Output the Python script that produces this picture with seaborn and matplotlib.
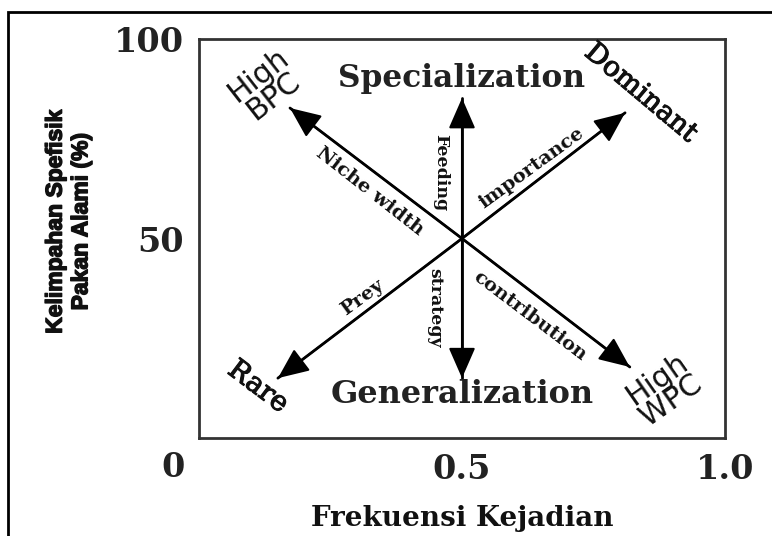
import matplotlib
matplotlib.use('Agg')
import matplotlib.pyplot as plt
import matplotlib.patheffects as pe
import seaborn as sns
import pandas as pd
import numpy as np
from matplotlib.patches import Rectangle
from matplotlib import font_manager as fm

# ---- data ----
center_x = 0.5
center_y = 50
arrow_names = ['niche', 'feeding', 'importance', 'prey', 'strategy', 'contribution']
tip_x = [0.173, 0.5, 0.810, 0.150, 0.5, 0.819]
tip_y = [82.7, 85.2, 81.5, 15.0, 15.0, 17.8]

x_ticks = [0.5, 1.0]
x_tick_labels = ['0.5', '1.0']
y_ticks = [50, 100]
y_tick_labels = ['50', '100']
origin_label = '0'

x_title = 'Frekuensi Kejadian'
y_title = 'Kelimpahan Spefisik\nPakan Alami (%)'

big_labels = ['Specialization', 'Generalization']
corner_labels = ['Dominant', 'Rare']
corner_sans_labels = ['High\nBPC', 'High\nWPC']
arrow_labels = ['Niche width', 'Feeding', 'importance', 'Prey', 'strategy', 'contribution']

# ---- style ----
sns.set_theme(style='white')
plt.rcParams['font.family'] = ['DejaVu Serif', 'DejaVu Sans']

names = {f.name for f in fm.fontManager.ttflist}
if 'Liberation Sans Narrow' in names:
    narrow, narrow_size = 'Liberation Sans Narrow', 20
else:
    narrow, narrow_size = 'Liberation Sans', 16.5

fig = plt.figure(figsize=(7.72, 5.36), dpi=100)
ax = fig.add_axes([199/772, 1-438/536, 526/772, 399/536])
ax.set_xlim(0, 1)
ax.set_ylim(0, 100)

# arrows: shafts via seaborn, heads via annotate
segs = pd.DataFrame({
    'arrow': np.repeat(arrow_names, 2),
    'x': np.ravel([[center_x, tx] for tx in tip_x]),
    'y': np.ravel([[center_y, ty] for ty in tip_y]),
})
sns.lineplot(data=segs, x='x', y='y', units='arrow', estimator=None, sort=False,
             color='black', lw=2, ax=ax, legend=False)
for tx, ty in zip(tip_x, tip_y):
    ax.annotate('', xy=(tx, ty), xytext=(center_x, center_y),
                arrowprops=dict(arrowstyle='-|>,head_length=0.8,head_width=0.35',
                                mutation_scale=24, color='black', lw=1.5,
                                shrinkA=0, shrinkB=0))

# spines
for s in ax.spines.values():
    s.set_visible(True)
    s.set_color('#333333')
    s.set_linewidth(2)

tick_font = dict(fontsize=24, family='DejaVu Serif', fontweight='bold', color='#222222')
ax.set_xticks(x_ticks)
ax.set_xticklabels(x_tick_labels, **tick_font)
ax.set_yticks(y_ticks)
ax.set_yticklabels(y_tick_labels, **tick_font)
ax.tick_params(axis='x', direction='in', length=18, width=1.5, color='#333333', pad=11)
ax.tick_params(axis='y', direction='in', length=24, width=1.5, color='#333333', pad=11)
ax.text(-0.05, -7.5, origin_label, ha='center', va='center', clip_on=False, **tick_font)

ax.set_xlabel(x_title, fontsize=20, fontweight='bold', family='DejaVu Serif', va='center',
              color='#111111')
ax.xaxis.set_label_coords(0.5, (438-518)/399)
ax.set_ylabel(y_title, fontsize=narrow_size, fontweight='bold', family=narrow, va='center',
              linespacing=1.15, color='#111111',
              path_effects=[pe.withStroke(linewidth=1.0, foreground='#111111')])
ax.yaxis.set_label_coords((68-199)/526, (438-222)/399)

# big labels
ax.text(0.5, 90.0, big_labels[0], fontsize=22.5, fontweight='bold', ha='center', va='center',
        color='#222222')
ax.text(0.5, 11.0, big_labels[1], fontsize=23, fontweight='bold', ha='center', va='center',
        color='#222222')

# corner labels
stroke = [pe.withStroke(linewidth=0.8, foreground='#111111')]
ax.text(0.840, 86.5, corner_labels[0], fontsize=20, rotation=-40, ha='center', va='center',
        rotation_mode='anchor', color='#111111', path_effects=stroke)
ax.text(0.112, 12.8, corner_labels[1], fontsize=20, rotation=-37, ha='center', va='center',
        rotation_mode='anchor', color='#111111', path_effects=stroke)
ax.text(0.127, 88.3, corner_sans_labels[0], fontsize=21.5, family='DejaVu Sans', rotation=38,
        ha='center', va='center', rotation_mode='anchor', linespacing=0.85, color='#111111')
ax.text(0.884, 12.0, corner_sans_labels[1], fontsize=21.5, family='DejaVu Sans', rotation=35,
        ha='center', va='center', rotation_mode='anchor', linespacing=0.85, color='#111111')

# arrow labels
al = dict(fontweight='bold', ha='center', va='center', rotation_mode='anchor', color='#111111')
ax.text(0.325, 61.9, arrow_labels[0], fontsize=14, rotation=-38, **al)
ax.text(0.460, 66.6, arrow_labels[1], fontsize=12.5, rotation=-90, **al)
ax.text(0.633, 67.7, arrow_labels[2], fontsize=14, rotation=36, **al)
ax.text(0.310, 35.3, arrow_labels[3], fontsize=14, rotation=36, **al)
ax.text(0.449, 32.6, arrow_labels[4], fontsize=12.5, rotation=-90, **al)
ax.text(0.629, 30.6, arrow_labels[5], fontsize=14, rotation=-37, **al)

# outer frame
fig.add_artist(Rectangle((8/772, -0.05), 1.0, 1-12/536+0.05, transform=fig.transFigure,
                         fill=False, lw=2, ec='black'))

fig.savefig('out.png', dpi=100)
